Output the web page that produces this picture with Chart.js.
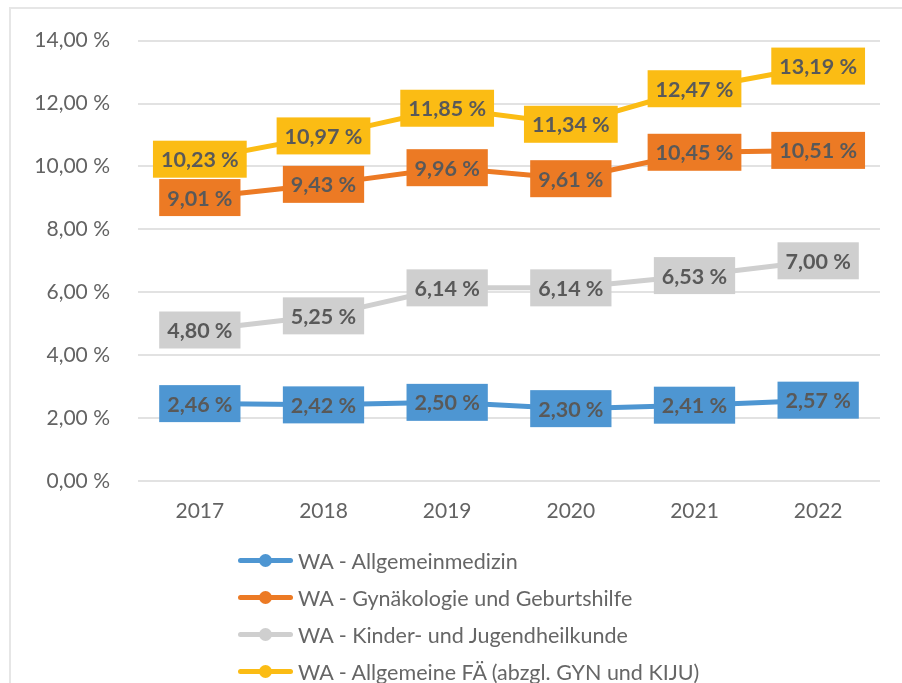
<!DOCTYPE html>
<html lang="de">
<head>
<meta charset="UTF-8">
<title>WA Anteile</title>
<style>
    body { margin: 0; background: #fff; }
    .rahmen { position: absolute; left: 9px; top: 7px; width: 893px; height: 676px; border-left: 2px solid #e6e6e6; border-top: 2px solid #e6e6e6; }
    .wrap { position: absolute; left: 0; top: 0; width: 902px; height: 683px; }
    .legende { position: absolute; left: 238px; top: 542px; font-family: Lato, sans-serif; font-size: 21.5px; color: #666; }
    .legende .eintrag { height: 37px; display: flex; align-items: center; white-space: nowrap; }
    .sym { position: relative; width: 55px; height: 13px; margin-right: 5px; }
    .sym .linie { position: absolute; left: 0; right: 0; top: 4px; height: 5px; border-radius: 3px; }
    .sym .punkt { position: absolute; left: 21px; top: 0; width: 13px; height: 13px; border-radius: 50%; }
</style>
</head>
<body>
    <div class="rahmen"></div>
    <div class="wrap">
        <canvas id="wa-chart" width="902" height="683"></canvas>
    </div>
    <div class="legende" id="legende"></div>

    <script src="https://cdn.jsdelivr.net/npm/chart.js"></script>
    <script>
        const jahre = ['2017', '2018', '2019', '2020', '2021', '2022'];
        const allgemeinmedizin = [2.46, 2.42, 2.50, 2.30, 2.41, 2.57];
        const gynaekologie = [9.01, 9.43, 9.96, 9.61, 10.45, 10.51];
        const kinderJugend = [4.80, 5.25, 6.14, 6.14, 6.53, 7.00];
        const allgemeineFae = [10.23, 10.97, 11.85, 11.34, 12.47, 13.19];
        const serienNamen = [
            'WA - Allgemeinmedizin',
            'WA - Gynäkologie und Geburtshilfe',
            'WA - Kinder- und Jugendheilkunde',
            'WA - Allgemeine FÄ (abzgl. GYN und KIJU)'
        ];
        const farben = ['#4e96d2', '#ec7a24', '#cfcfcf', '#fbbc14'];

        function prozent(v) {
            return v.toFixed(2).replace('.', ',') + ' %';
        }

        // Datenbeschriftungen als farbige Kästchen (wie in Excel)
        const wertLabels = {
            id: 'wertLabels',
            afterDatasetsDraw(chart) {
                const ctx = chart.ctx;
                ctx.save();
                ctx.font = 'bold 21.5px Lato';
                ctx.textAlign = 'center';
                ctx.textBaseline = 'middle';
                chart.data.datasets.forEach((ds, i) => {
                    const meta = chart.getDatasetMeta(i);
                    meta.data.forEach((pt, j) => {
                        const txt = prozent(ds.data[j]);
                        const w = ctx.measureText(txt).width + 16;
                        const h = 37;
                        ctx.fillStyle = ds.borderColor;
                        ctx.fillRect(pt.x - w / 2, pt.y - h / 2, w, h);
                        ctx.fillStyle = '#595959';
                        ctx.fillText(txt, pt.x, pt.y + 1);
                    });
                });
                ctx.restore();
            }
        };

        const reihen = [allgemeinmedizin, gynaekologie, kinderJugend, allgemeineFae];

        const chart = new Chart(document.getElementById('wa-chart'), {
            type: 'line',
            data: {
                labels: jahre,
                datasets: reihen.map((werte, i) => ({
                    label: serienNamen[i],
                    data: werte,
                    borderColor: farben[i],
                    backgroundColor: farben[i],
                    borderWidth: 5,
                    pointRadius: 5,
                    tension: 0
                }))
            },
            options: {
                responsive: false,
                animation: false,
                layout: { padding: { left: 0, right: 22, top: 37, bottom: 152 } },
                plugins: {
                    legend: { display: false },
                    tooltip: { enabled: false }
                },
                scales: {
                    x: {
                        offset: true,
                        grid: { display: false, drawTicks: false },
                        border: { display: false },
                        ticks: { color: '#636363', font: { family: 'Lato', size: 21 }, padding: 18 },
                        afterFit(scale) { scale.height = 50; }
                    },
                    y: {
                        min: 0,
                        max: 14,
                        grid: { color: '#e2e2e2', lineWidth: 2, drawTicks: false },
                        border: { display: false },
                        ticks: {
                            stepSize: 2,
                            padding: 28,
                            color: '#636363',
                            font: { family: 'Lato', size: 21 },
                            callback: v => prozent(v)
                        },
                        afterFit(scale) { scale.width = 138; }
                    }
                }
            },
            plugins: [wertLabels]
        });

        // Legende senkrecht untereinander
        const legende = document.getElementById('legende');
        chart.data.datasets.forEach(ds => {
            const zeile = document.createElement('div');
            zeile.className = 'eintrag';
            zeile.innerHTML = '<div class="sym"><div class="linie" style="background:' + ds.borderColor +
                '"></div><div class="punkt" style="background:' + ds.borderColor + '"></div></div>';
            const text = document.createElement('span');
            text.textContent = ds.label;
            zeile.appendChild(text);
            legende.appendChild(zeile);
        });
    </script>
</body>
</html>
